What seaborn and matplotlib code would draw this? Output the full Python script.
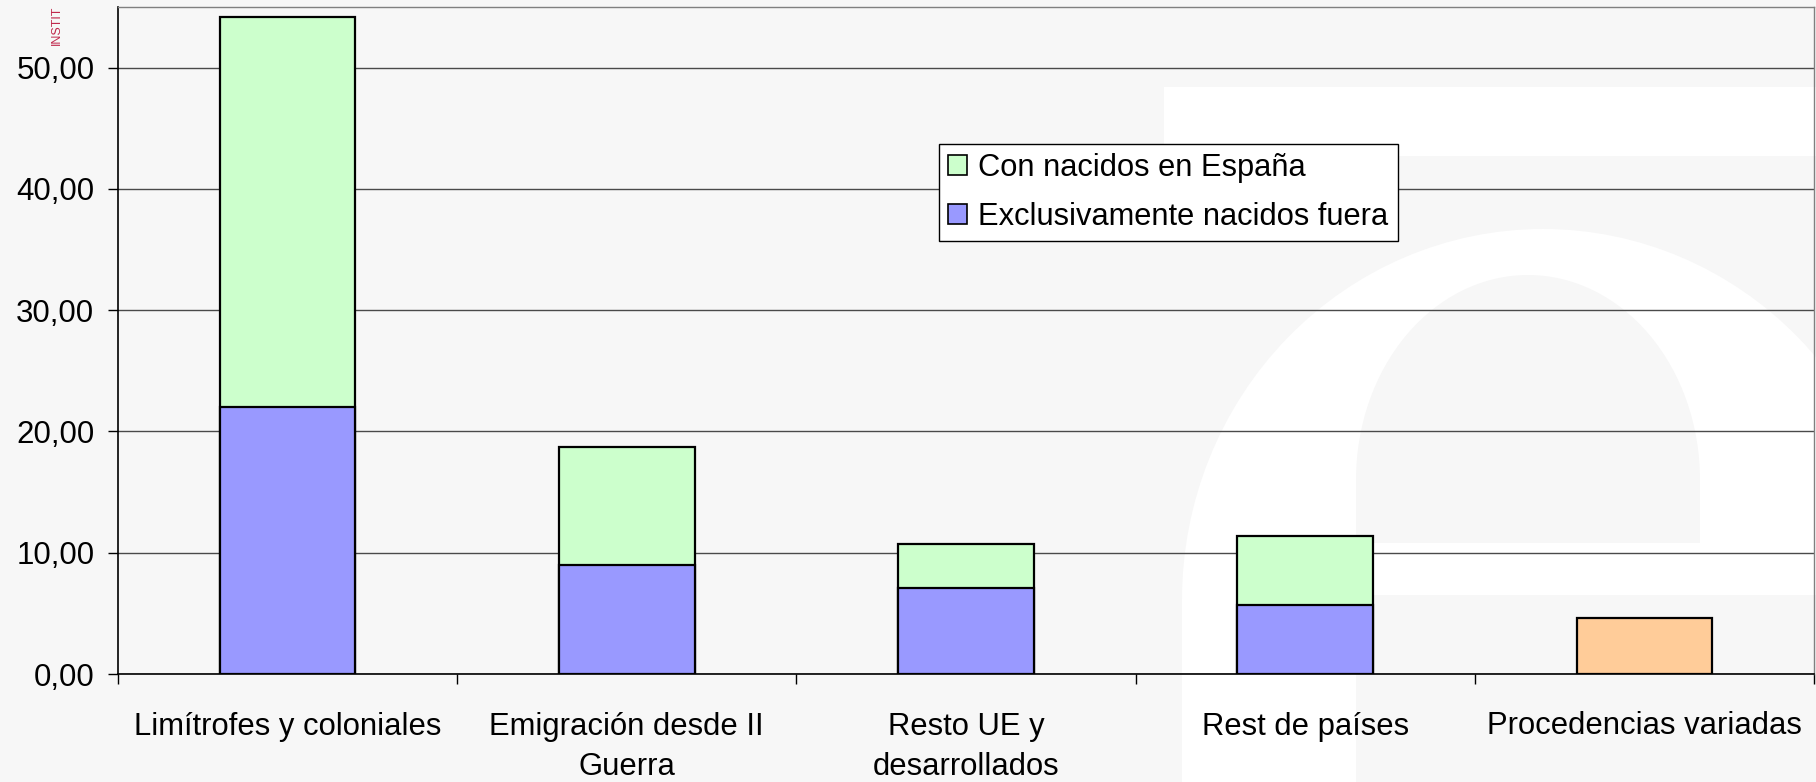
import numpy as np
import pandas as pd
import matplotlib
matplotlib.use("Agg")
import matplotlib.pyplot as plt
import seaborn as sns
from matplotlib.patches import Ellipse, Rectangle, Patch
from matplotlib.ticker import FixedLocator, FuncFormatter

# ---- data ----
categorias = ["Limítrofes y coloniales", "Emigración desde II\nGuerra",
              "Resto UE y\ndesarrollados", "Rest de países", "Procedencias variadas"]
exclusivamente_fuera = [22.0, 9.0, 7.1, 5.7, np.nan]
con_nacidos_espana = [32.2, 9.7, 3.6, 5.7, np.nan]
procedencias_variadas = [np.nan, np.nan, np.nan, np.nan, 4.6]
y_ticks = [0, 10, 20, 30, 40, 50]
leyenda = ["Con nacidos en España", "Exclusivamente nacidos fuera"]

df = pd.DataFrame({
    "cat": categorias,
    "fuera": exclusivamente_fuera,
    "total": np.array(exclusivamente_fuera) + np.array(con_nacidos_espana),
    "variadas": procedencias_variadas,
})

verde, azul, naranja = "#CCFFCC", "#9999FF", "#FFCC99"
bg = "#f7f7f7"

sns.set_style("ticks")
plt.rcParams["font.family"] = ["Liberation Sans", "DejaVu Sans"]
plt.rcParams["text.color"] = "black"
plt.rcParams["xtick.color"] = "black"
plt.rcParams["ytick.color"] = "black"

W, H = 1816, 782
fig = plt.figure(figsize=(W / 100, H / 100), dpi=100, facecolor=bg)
ax = fig.add_axes([118 / W, 1 - 674 / H, (1814 - 118) / W, (674 - 7) / H])
ax.set_facecolor("none")

# faint INE "e" watermark behind the chart (pixel coords, origin top-left)
def px_rect(x0, y0, x1, y1, col):
    fig.patches.append(Rectangle((x0 / W, 1 - y1 / H), (x1 - x0) / W, (y1 - y0) / H,
                                 transform=fig.transFigure, color=col, lw=0, zorder=-2))

def px_ell(cx, cy, a, b, col):
    fig.patches.append(Ellipse((cx / W, 1 - cy / H), 2 * a / W, 2 * b / H,
                               transform=fig.transFigure, color=col, lw=0, zorder=-2))

px_rect(1164, 87, W, 156, "white")
px_ell(1543, 600, 361, 371, "white")
px_rect(1182, 600, W, H, "white")
px_ell(1528, 480, 172, 205, bg)
px_rect(1356, 480, 1700, 543, bg)
px_rect(1356, 595, W, H, bg)
px_rect(1356, 543, W, 595, "white")

# ---- bars ----
kw = dict(order=categorias, edgecolor="black", linewidth=1.6, width=0.4,
          saturation=1, errorbar=None, ax=ax)
sns.barplot(data=df, x="cat", y="total", color=verde, **kw)
sns.barplot(data=df, x="cat", y="fuera", color=azul, **kw)
sns.barplot(data=df, x="cat", y="variadas", color=naranja, **kw)

ax.set_xlim(-0.5, 4.5)
ax.set_ylim(0, 55)
ax.set_xlabel("")
ax.set_ylabel("")

ax.yaxis.set_major_locator(FixedLocator(y_ticks))
ax.yaxis.set_major_formatter(FuncFormatter(lambda v, p: f"{v:.2f}".replace(".", ",")))
ax.yaxis.grid(True, color="#4a4a4a", lw=1)
ax.set_axisbelow(True)

ax.tick_params(axis="y", length=7, width=1, pad=10, labelsize=22.5)
ax.set_xticks(np.arange(-0.5, 5, 1), minor=True)
ax.tick_params(axis="x", which="major", length=0, pad=27, labelsize=22.3)
ax.tick_params(axis="x", which="minor", length=7, width=1)
for lbl in ax.get_xticklabels():
    lbl.set_linespacing(1.45)

for s in ["left", "bottom"]:
    ax.spines[s].set_color("black")
    ax.spines[s].set_linewidth(1.2)
for s in ["top", "right"]:
    ax.spines[s].set_visible(True)
    ax.spines[s].set_color("#808080")
    ax.spines[s].set_linewidth(1)

handles = [Patch(facecolor=verde, edgecolor="black", lw=1.2),
           Patch(facecolor=azul, edgecolor="black", lw=1.2)]
leg = fig.legend(handles, leyenda, loc="upper left",
                 bbox_to_anchor=(939 / W, 1 - 144 / H), bbox_transform=fig.transFigure,
                 fontsize=22.2, frameon=True, fancybox=False, framealpha=1,
                 edgecolor="black", handlelength=0.62, handleheight=0.62,
                 handletextpad=0.35, labelspacing=0.6, borderpad=0.3,
                 borderaxespad=0)
leg.get_frame().set_linewidth(1)

fig.text(56.5 / W, 1 - 45 / H, "INSTIT", rotation=90,
         color="#c0284c", fontsize=9, ha="center", va="bottom")

fig.savefig("out.png", dpi=100, facecolor=bg)
